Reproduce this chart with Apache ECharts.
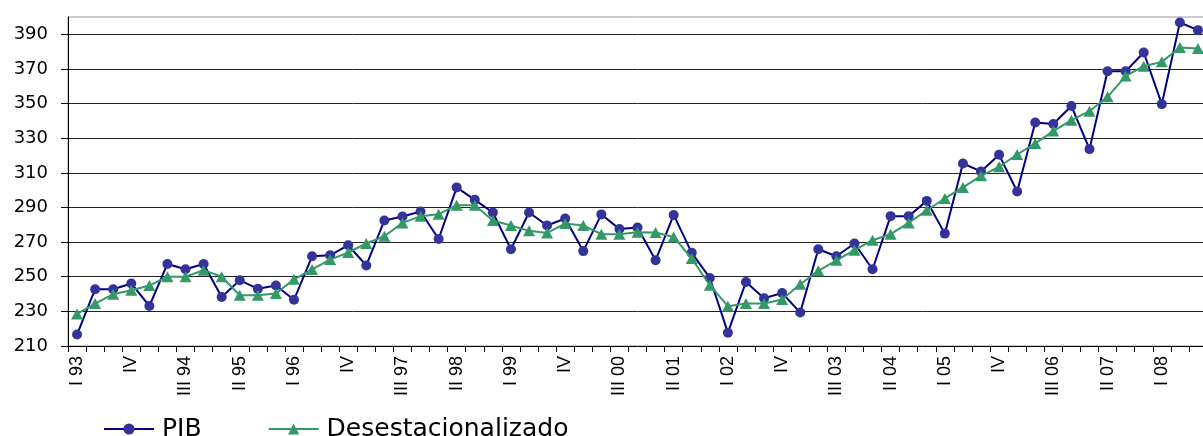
<!DOCTYPE html>
<html>
<head>
<meta charset="utf-8">
<script src="https://cdn.jsdelivr.net/npm/echarts@6/dist/echarts.min.js"></script>
<style>
html,body{margin:0;padding:0;background:#fff;overflow:hidden;width:1203px;height:436px;}
#c{width:1207px;height:436px;}
</style>
</head>
<body>
<div id="c"></div>
<script>
// Quarter names and years used to build the category labels
const quarters = ['I', 'II', 'III', 'IV'];
const years = ['93','94','95','96','97','98','99','00','01','02','03','04','05','06','07','08'];
const lastYearQuarters = 3; // data runs to III 08

// PIB (quarterly values, I 93 .. III 08)
const pib = [
  216.6, 242.8, 242.8, 246.1,
  233.1, 257.4, 254.3, 257.4,
  238.3, 248.0, 243.0, 244.9,
  236.7, 261.8, 262.4, 268.2,
  256.5, 282.5, 284.8, 287.7,
  271.8, 301.6, 294.4, 287.1,
  265.9, 287.1, 279.6, 283.6,
  264.8, 286.0, 277.6, 278.4,
  259.5, 285.7, 263.8, 249.3,
  217.7, 247.0, 237.6, 240.6,
  229.3, 265.9, 261.8, 269.2,
  254.3, 285.0, 285.0, 293.8,
  274.9, 315.4, 310.8, 320.4,
  299.2, 339.1, 338.2, 348.6,
  323.7, 368.7, 368.7, 379.5,
  349.7, 396.8, 392.4
];

// Desestacionalizado (seasonally adjusted)
const desest = [
  228.5, 234.5, 239.9, 242.2,
  244.9, 250.0, 250.0, 253.8,
  250.0, 239.3, 239.3, 240.3,
  248.5, 254.2, 259.9, 264.0,
  269.2, 273.4, 281.1, 285.0,
  286.1, 291.3, 291.3, 282.5,
  279.6, 276.5, 275.3, 280.7,
  279.6, 274.6, 274.6, 275.7,
  275.5, 273.0, 260.5, 245.1,
  233.0, 234.5, 234.5, 236.8,
  245.7, 253.4, 259.5, 265.3,
  271.1, 274.6, 281.1, 288.4,
  295.2, 301.6, 308.3, 313.5,
  320.6, 327.0, 334.1, 340.4,
  345.6, 353.9, 365.9, 371.6,
  374.1, 382.4, 381.8
];

const seriesNames = ['PIB', 'Desestacionalizado'];

const categories = [];
years.forEach((y, yi) => {
  const nq = (yi === years.length - 1) ? lastYearQuarters : 4;
  for (let q = 0; q < nq; q++) {
    categories.push(quarters[q] === 'IV' ? 'IV' : quarters[q] + ' ' + y);
  }
});

const chart = echarts.init(document.getElementById('c'), null, {renderer: 'canvas'});
chart.setOption({
  animation: false,
  backgroundColor: '#fff',
  grid: {
    left: 68, right: 0, top: 17, height: 329,
    show: true, borderColor: '#9a9a9a', borderWidth: 1, backgroundColor: 'transparent'
  },
  legend: {
    left: 103, top: 416, padding: 0,
    itemWidth: 50, itemHeight: 14, itemGap: 66,
    data: seriesNames,
    textStyle: { fontFamily: 'DejaVu Sans', fontSize: 25, color: '#000', lineHeight: 26, padding: [0, 0, 0, 3] }
  },
  xAxis: {
    type: 'category',
    data: categories,
    boundaryGap: true,
    axisLine: { lineStyle: { color: '#000', width: 1 } },
    axisTick: { show: true, interval: 0, length: 6, lineStyle: { color: '#000' } },
    axisLabel: {
      interval: 2, rotate: 90, margin: 10,
      fontFamily: 'Liberation Sans', fontSize: 18, color: '#000'
    },
    splitLine: { show: false }
  },
  yAxis: {
    type: 'value',
    min: 210, max: 400, interval: 20,
    axisLine: { show: true, lineStyle: { color: '#000', width: 1 } },
    axisTick: { show: true, length: 7, lineStyle: { color: '#000' } },
    axisLabel: { showMaxLabel: false, margin: 20, fontFamily: 'DejaVu Sans', fontSize: 18, color: '#000' },
    splitLine: { show: true, showMaxLine: false, showMinLine: false, lineStyle: { color: '#222', width: 1 } }
  },
  series: [
    {
      name: seriesNames[0], type: 'line', data: pib,
      symbol: 'circle', symbolSize: 10, showAllSymbol: true,
      lineStyle: { color: '#000080', width: 2 },
      itemStyle: { color: '#333399' },
      z: 2
    },
    {
      name: seriesNames[1], type: 'line', data: desest,
      symbol: 'triangle', symbolSize: [12, 11], showAllSymbol: true,
      lineStyle: { color: '#339966', width: 2 },
      itemStyle: { color: '#339966' },
      z: 3
    }
  ]
});
</script>
</body>
</html>
